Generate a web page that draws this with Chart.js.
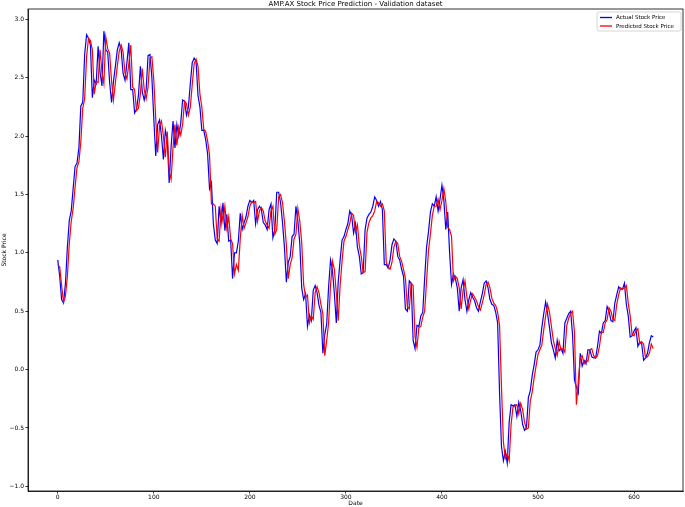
<!DOCTYPE html>
<html>
<head>
<meta charset="utf-8">
<script src="https://cdn.jsdelivr.net/npm/chart.js@4.4.1/dist/chart.umd.min.js"></script>
<style>
  html, body { margin: 0; padding: 0; background: #fff; }
  #wrap { width: 685px; height: 507px; }
</style>
</head>
<body>
<div id="wrap"><canvas id="chart" width="685" height="507"></canvas></div>
<script>
// --- data (one value every 2 days) ---
const titleText = 'AMP.AX Stock Price Prediction - Validation dataset';
const dateStep = 2;

const actual = [
  0.94, 0.80, 0.60, 0.57, 0.74, 1.05, 1.28, 1.36, 1.55, 1.74,
  1.77, 1.90, 2.26, 2.29, 2.70, 2.87, 2.84, 2.78, 2.33, 2.48,
  2.45, 2.77, 2.55, 2.43, 2.90, 2.74, 2.72, 2.46, 2.29, 2.47,
  2.60, 2.74, 2.80, 2.74, 2.54, 2.48, 2.63, 2.80, 2.40, 2.40,
  2.20, 2.23, 2.35, 2.60, 2.38, 2.31, 2.40, 2.69, 2.70, 2.50,
  2.15, 1.83, 2.10, 2.14, 2.00, 1.80, 2.05, 1.97, 1.60, 1.91,
  2.13, 1.90, 2.10, 2.00, 2.11, 2.31, 2.30, 2.18, 2.25, 2.45,
  2.63, 2.67, 2.64, 2.35, 2.25, 2.05, 2.05, 1.97, 1.85, 1.55,
  1.60, 1.25, 1.11, 1.08, 1.40, 1.25, 1.43, 1.19, 1.33, 1.10,
  1.11, 0.78, 1.00, 1.00, 1.10, 1.34, 1.20, 1.26, 1.31, 1.40,
  1.45, 1.43, 1.45, 1.25, 1.37, 1.40, 1.37, 1.26, 1.24, 1.20,
  1.37, 1.42, 1.13, 1.20, 1.52, 1.52, 1.43, 1.26, 1.05, 0.75,
  0.92, 0.97, 1.14, 1.16, 1.40, 1.27, 1.08, 0.70, 0.60, 0.65,
  0.37, 0.47, 0.42, 0.68, 0.72, 0.66, 0.55, 0.49, 0.14, 0.30,
  0.39, 0.71, 0.94, 0.85, 0.65, 0.40, 0.75, 0.94, 1.11, 1.14,
  1.20, 1.25, 1.36, 1.32, 1.17, 1.25, 1.05, 0.97, 0.82, 0.83,
  1.20, 1.30, 1.33, 1.35, 1.40, 1.48, 1.45, 1.40, 1.44, 1.37,
  0.90, 0.90, 0.87, 0.94, 1.07, 1.12, 1.10, 0.97, 0.94, 0.86,
  0.80, 0.52, 0.50, 0.76, 0.74, 0.25, 0.18, 0.38, 0.37, 0.46,
  0.49, 0.78, 1.05, 1.18, 1.35, 1.42, 1.40, 1.48, 1.36, 1.46,
  1.58, 1.45, 1.20, 1.35, 1.00, 0.73, 0.82, 0.78, 0.70, 0.50,
  0.70, 0.77, 0.60, 0.50, 0.60, 0.66, 0.62, 0.59, 0.53, 0.50,
  0.58, 0.65, 0.74, 0.76, 0.70, 0.60, 0.56, 0.55, 0.49, 0.40,
  -0.20, -0.66, -0.78, -0.70, -0.80, -0.45, -0.30, -0.31, -0.30, -0.40,
  -0.28, -0.35, -0.47, -0.52, -0.50, -0.24, -0.18, -0.05, 0.04, 0.15,
  0.17, 0.21, 0.36, 0.48, 0.58, 0.48, 0.36, 0.23, 0.17, 0.10,
  0.25, 0.16, 0.18, 0.14, 0.40, 0.44, 0.48, 0.50, 0.30, -0.09,
  -0.15, -0.20, 0.14, 0.03, 0.08, 0.05, 0.17, 0.17, 0.11, 0.10,
  0.10, 0.20, 0.33, 0.31, 0.40, 0.42, 0.54, 0.50, 0.42, 0.41,
  0.57, 0.64, 0.71, 0.69, 0.69, 0.74, 0.56, 0.46, 0.28, 0.29,
  0.33, 0.36, 0.20, 0.24, 0.22, 0.08, 0.10, 0.14, 0.23, 0.29,
  0.28
];

const predicted = [
  0.90, 0.88, 0.72, 0.58, 0.63, 0.80, 1.08, 1.27, 1.38, 1.56,
  1.73, 1.78, 1.95, 2.24, 2.32, 2.68, 2.84, 2.82, 2.74, 2.36,
  2.47, 2.46, 2.74, 2.55, 2.45, 2.85, 2.75, 2.71, 2.47, 2.31,
  2.46, 2.60, 2.73, 2.78, 2.72, 2.54, 2.49, 2.62, 2.78, 2.42,
  2.40, 2.22, 2.24, 2.36, 2.58, 2.40, 2.32, 2.42, 2.67, 2.68,
  2.48, 2.15, 1.86, 2.09, 2.13, 2.00, 1.82, 2.04, 1.70, 1.63,
  1.90, 2.10, 1.92, 2.08, 2.01, 2.10, 2.30, 2.28, 2.18, 2.25,
  2.44, 2.62, 2.66, 2.60, 2.36, 2.25, 2.06, 2.04, 1.96, 1.84,
  1.42, 1.42, 1.40, 1.12, 1.10, 1.38, 1.27, 1.40, 1.21, 1.31,
  1.12, 1.08, 0.82, 0.90, 0.85, 1.12, 1.32, 1.21, 1.26, 1.31,
  1.40, 1.44, 1.43, 1.44, 1.27, 1.36, 1.39, 1.36, 1.27, 1.24,
  1.21, 1.36, 1.40, 1.16, 1.20, 1.48, 1.50, 1.43, 1.27, 1.07,
  0.78, 0.90, 0.96, 1.12, 1.16, 1.38, 1.27, 1.09, 0.73, 0.62,
  0.64, 0.40, 0.46, 0.43, 0.66, 0.71, 0.66, 0.56, 0.48, 0.12,
  0.25, 0.40, 0.72, 0.93, 0.86, 0.66, 0.42, 0.72, 0.93, 1.10,
  1.14, 1.20, 1.25, 1.34, 1.32, 1.18, 1.24, 1.06, 0.97, 0.83,
  0.84, 1.18, 1.26, 1.30, 1.32, 1.36, 1.44, 1.43, 1.40, 1.42,
  1.36, 0.92, 0.88, 0.86, 0.92, 1.05, 1.10, 1.08, 0.97, 0.93,
  0.86, 0.78, 0.54, 0.52, 0.74, 0.72, 0.28, 0.19, 0.36, 0.37,
  0.45, 0.50, 0.76, 1.02, 1.16, 1.32, 1.40, 1.40, 1.46, 1.37,
  1.45, 1.55, 1.44, 1.22, 1.20, 1.14, 0.76, 0.80, 0.78, 0.70,
  0.52, 0.68, 0.76, 0.62, 0.52, 0.60, 0.65, 0.62, 0.59, 0.54,
  0.51, 0.57, 0.64, 0.73, 0.75, 0.70, 0.61, 0.57, 0.55, 0.49,
  0.38, -0.15, -0.62, -0.76, -0.72, -0.78, -0.47, -0.32, -0.31, -0.30,
  -0.38, -0.29, -0.34, -0.45, -0.51, -0.50, -0.27, -0.19, -0.07, 0.03,
  0.13, 0.17, 0.21, 0.34, 0.46, 0.56, 0.49, 0.37, 0.25, 0.18,
  0.12, 0.24, 0.17, 0.18, 0.15, 0.38, 0.44, 0.48, 0.50, 0.32,
  -0.30, -0.10, 0.10, 0.12, 0.05, 0.08, 0.07, 0.17, 0.18, 0.12,
  0.10, 0.12, 0.20, 0.32, 0.32, 0.40, 0.43, 0.53, 0.50, 0.43,
  0.42, 0.56, 0.64, 0.70, 0.69, 0.70, 0.72, 0.57, 0.46, 0.30,
  0.29, 0.33, 0.35, 0.22, 0.24, 0.22, 0.10, 0.11, 0.14, 0.22,
  0.18
];

const xTicks = [0, 100, 200, 300, 400, 500, 600];
const yTicks = [-1.0, -0.5, 0.0, 0.5, 1.0, 1.5, 2.0, 2.5, 3.0];

// --- helpers ---
const FONT = '"DejaVu Sans", sans-serif';
const dates = actual.map((_, i) => i * dateStep);
const toPoints = arr => arr.map((v, i) => ({ x: dates[i], y: v }));
const fmtY = v => (v < 0 ? '\u2212' : '') + Math.abs(v).toFixed(1);

// frame, title and legend drawn like matplotlib
const mplDecor = {
  id: 'mplDecor',
  afterDraw(chart) {
    const { ctx, chartArea: a } = chart;
    ctx.save();
    ctx.strokeStyle = '#000';
    ctx.lineWidth = 0.8;
    ctx.strokeRect(a.left, a.top, a.right - a.left, a.bottom - a.top);

    ctx.fillStyle = '#000';
    ctx.font = '7px ' + FONT;
    ctx.textAlign = 'center';
    ctx.textBaseline = 'middle';
    ctx.fillText(titleText, (a.left + a.right) / 2, 4.5);

    // legend box, top right inside the axes
    const bx = 597, by = 12, bw = 84, bh = 19;
    ctx.fillStyle = 'rgba(255,255,255,0.8)';
    ctx.strokeStyle = '#cccccc';
    ctx.lineWidth = 0.8;
    ctx.beginPath();
    ctx.roundRect(bx, by, bw, bh, 2);
    ctx.fill();
    ctx.stroke();
    ctx.font = '5.5px ' + FONT;
    ctx.textAlign = 'left';
    chart.data.datasets.forEach((ds, i) => {
      const y = by + 5.5 + i * 8.5;
      ctx.strokeStyle = ds.borderColor;
      ctx.lineWidth = 1.3;
      ctx.beginPath();
      ctx.moveTo(bx + 3, y);
      ctx.lineTo(bx + 15, y);
      ctx.stroke();
      ctx.fillStyle = '#000';
      ctx.fillText(ds.label, bx + 19, y + 0.5);
    });
    ctx.restore();
  }
};

new Chart(document.getElementById('chart'), {
  type: 'line',
  data: {
    datasets: [
      {
        label: 'Actual Stock Price',
        data: toPoints(actual),
        borderColor: '#0000ff',
        borderWidth: 1.2,
        pointRadius: 0,
        tension: 0,
        order: 1
      },
      {
        label: 'Predicted Stock Price',
        data: toPoints(predicted),
        borderColor: '#ff0000',
        borderWidth: 1.2,
        pointRadius: 0,
        tension: 0,
        order: 0
      }
    ]
  },
  options: {
    responsive: false,
    animation: false,
    events: [],
    layout: { padding: { top: 9, right: 2, left: 0, bottom: 0 } },
    plugins: {
      legend: { display: false },
      title: { display: false },
      tooltip: { enabled: false }
    },
    scales: {
      x: {
        type: 'linear',
        min: -31,
        max: 651,
        afterBuildTicks: ax => { ax.ticks = xTicks.map(v => ({ value: v })); },
        afterFit: ax => { ax.height = 16; },
        ticks: { font: { size: 6, family: FONT }, color: '#000', padding: 0, maxRotation: 0, callback: v => String(v) },
        grid: { drawOnChartArea: false, drawTicks: true, tickLength: 2.5, color: '#000', lineWidth: 0.8 },
        border: { display: true, color: '#000', width: 0.8 },
        title: { display: true, text: 'Date', font: { size: 6, family: FONT, lineHeight: 1 }, color: '#000', padding: { top: 0, bottom: 1 } }
      },
      y: {
        type: 'linear',
        min: -1.04,
        max: 3.09,
        afterBuildTicks: ax => { ax.ticks = yTicks.map(v => ({ value: v })); },
        afterFit: ax => { ax.width = 28; },
        ticks: { font: { size: 6, family: FONT }, color: '#000', padding: 1.5, callback: v => fmtY(v) },
        grid: { drawOnChartArea: false, drawTicks: true, tickLength: 2.5, color: '#000', lineWidth: 0.8 },
        border: { display: true, color: '#000', width: 0.8 },
        title: { display: true, text: 'Stock Price', font: { size: 6, family: FONT, lineHeight: 1 }, color: '#000', padding: { top: 1.5, bottom: 0 } }
      }
    }
  },
  plugins: [mplDecor]
});
</script>
</body>
</html>
